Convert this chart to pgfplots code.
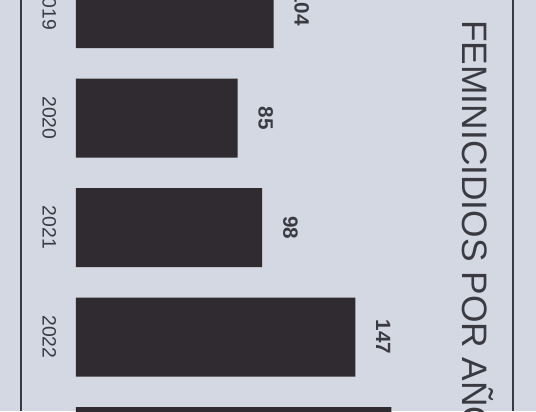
\documentclass[border=0pt]{standalone}
\usepackage{pgfplots}
\pgfplotsset{compat=1.18}
\usepackage{fontspec}
\setmainfont{Liberation Sans}
\definecolor{paper}{RGB}{212,216,226}
\definecolor{barcol}{RGB}{48,43,48}
\definecolor{ink}{RGB}{58,58,66}

\begin{document}
\begin{tikzpicture}
\useasboundingbox (0,0) rectangle (402pt,308.25pt);
\begin{scope}
\clip (0,0) rectangle (402pt,308.25pt);
\fill[paper] (0,0) rectangle (402pt,308.25pt);
% page frame lines of the photo
\draw[ink, line width=1pt] (15.75pt,0) -- (15.75pt,308.25pt);
\draw[ink, line width=0.8pt] (384.75pt,0) -- (384.75pt,308.25pt);
% title, rotated like the printed sheet
\node[rotate=-90, anchor=base west, inner sep=0, text=ink,
      font=\fontsize{26.5}{30}\selectfont] at (346.5pt,293.25pt) {FEMINICIDIOS POR AÑO};
\begin{axis}[
  at={(57pt,384pt)}, anchor=north west,
  x=1.425pt, y=82.125pt,
  xmin=0, xmax=230, ymin=-1, ymax=4.6,
  y dir=reverse,
  xbar, bar width=59.25pt,
  hide x axis,
  axis line style={draw=none},
  ytick={0,1,2,3,4},
  yticklabels={2019,2020,2021,2022,2023},
  ytick style={draw=none},
  yticklabel style={xshift=-10.5pt, rotate=-90, anchor=north, inner sep=0,
                    text=ink, font=\fontsize{14.5}{16}\selectfont},
  nodes near coords,
  nodes near coords style={xshift=15.5pt, rotate=-90, anchor=south, inner sep=0,
                           text=ink, font=\bfseries\fontsize{15.5}{17}\selectfont},
  /pgf/number format/assume math mode=true,
  clip=false,
]
\addplot[fill=barcol, draw=none] coordinates {(104,0) (85,1) (98,2) (147,3) (166,4)};
\end{axis}
\end{scope}
\end{tikzpicture}
\end{document}
